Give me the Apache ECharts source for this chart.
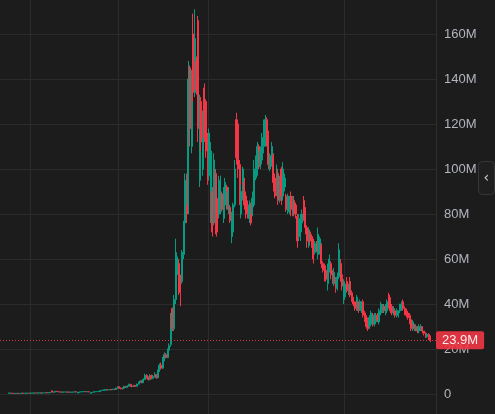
<!DOCTYPE html>
<html>
<head>
<meta charset="utf-8">
<script src="https://cdn.jsdelivr.net/npm/echarts@6/dist/echarts.min.js"></script>
<style>
html,body{margin:0;padding:0;background:#1c1c1c;}
#c{width:495px;height:414px;}
</style>
</head>
<body>
<div id="c"></div>
<script>
// Values in millions. Each candle: [open, close, low, high]
const slotCount = 272;          // category slots across the plot
const firstSlot = 5;            // first slot that holds a candle
const ohlc = [
  [0.3,0.4,0.2,0.5],[0.4,0.4,0.3,0.5],[0.4,0.3,0.2,0.5],[0.3,0.2,0.1,0.4],[0.2,0.3,0.1,0.4],
  [0.3,0.3,0.2,0.4],[0.3,0.2,0.1,0.4],[0.2,0.3,0.1,0.4],[0.3,0.4,0.2,0.5],[0.4,0.3,0.2,0.5],
  [0.3,0.3,0.2,0.4],[0.3,0.4,0.2,0.5],[0.4,0.4,0.3,0.5],[0.4,0.3,0.2,0.5],[0.3,0.4,0.2,0.5],
  [0.4,0.4,0.3,0.5],[0.4,0.5,0.3,0.6],[0.5,0.4,0.3,0.6],[0.4,0.5,0.3,0.6],[0.5,0.5,0.4,0.6],
  [0.5,0.4,0.3,0.6],[0.4,0.5,0.3,0.6],[0.5,0.5,0.4,0.6],[0.5,0.6,0.4,0.7],[0.6,0.5,0.4,0.7],
  [0.5,0.6,0.4,0.7],
  [0.6,0.7,0.5,0.8],[1.4,0.8,0.7,1.6],[0.8,0.9,0.7,1.0],[0.9,1.2,0.8,1.3],[1.2,1.0,0.9,1.3],
  [1.0,0.9,0.8,1.1],[0.9,0.9,0.8,1.0],[0.9,0.8,0.7,1.0],[0.8,0.9,0.7,1.0],[0.9,0.9,0.8,1.0],
  [0.9,0.8,0.7,1.0],[0.8,0.9,0.7,1.0],[0.9,0.8,0.7,1.0],[0.8,0.8,0.7,0.9],[0.8,0.9,0.7,1.0],
  [0.9,1.0,0.8,1.1],[1.0,0.9,0.8,1.1],[0.4,0.7,0.3,0.8],[0.7,0.9,0.6,1.0],[0.9,1.0,0.8,1.1],
  [1.0,1.0,0.9,1.1],[1.0,1.1,0.9,1.2],[1.1,1.0,0.9,1.2],[1.0,1.0,0.9,1.1],[1.0,0.9,0.8,1.1],
  [0.3,0.6,0.2,0.7],[0.6,0.8,0.5,0.9],[0.8,1.0,0.7,1.1],[1.0,1.0,0.9,1.1],[1.0,1.1,0.9,1.2],
  [1.1,1.2,1.0,1.3],
  [1.0,1.5,0.9,1.6],[1.5,1.6,1.4,1.8],[1.6,1.8,1.5,1.9],[1.6,2.0,1.5,2.1],[2.0,1.8,1.7,2.2],
  [1.8,1.8,1.6,2.0],[1.8,2.0,1.7,2.1],[2.0,1.9,1.7,2.2],[1.9,2.1,1.8,2.3],[2.1,2.0,1.8,2.4],
  [2.0,2.6,1.9,2.8],[2.6,3.2,2.4,3.5],[3.2,2.6,2.4,3.4],[2.6,2.3,2.1,2.9],[2.3,2.6,2.0,2.9],
  [2.6,3.4,2.5,3.6],[3.4,3.0,2.8,3.6],[3.0,3.5,2.7,3.8],[3.5,4.3,3.3,4.6],[4.3,3.6,3.2,4.5],
  [3.6,3.3,3.0,3.9],[3.3,3.8,3.1,4.1],[3.8,3.4,3.2,4.0],[3.4,4.4,3.3,4.6],[4.4,5.2,4.2,5.5],
  [5.2,5.8,4.9,6.0],[5.8,5.0,4.8,6.2],[5.0,6.5,4.9,7.0],[6.5,8.3,6.2,9.0],[8.3,7.2,6.8,8.8],
  [7.2,6.4,6.0,7.8],[6.4,8.2,6.1,8.8],[8.2,7.0,6.5,8.6],[7.0,7.8,6.6,8.5],[7.8,8.6,7.4,9.6],
  [8.6,7.2,6.8,8.9],[7.2,10.2,7.0,10.8],[10.2,12.8,9.8,13.6],[12.8,11.5,10.8,14.0],[11.5,15.5,11.2,16.5],
  [15.5,17.5,14.6,18.5],[17.5,16.2,15.8,18.2],[16.2,19.5,16.0,20.2],[19.5,21.5,19.0,22.5],[22,33,21,36],
  [38,29,28,38.5],[29,42,28,44],[42,57,40,69],[53,61,51,63],[58,46,44,60],
  [52,45,39,53],[50,63,49,64],[62,76,60,77],[76,95,74,98],[95,80,76,98],
  [84,140,80,148],[145,118,110,146],[110,142,107,144],[160,134,130,169],[134,158,132,171],
  [148,135,133,150],[166,118,112,168],[95,130,92,133],[130,112,108,132],[100,124,97,126],
  [136,114,112,138],[130,108,105,131],[114,95,93,116],[97,116,95,118],[84,108,76,112],
  [90,72,70,92],[76,104,75,107],[98,78,71,100],[87,72,70,88],[80,92,78,97],
  [82,95,80,97],[89,82,81,90],[78,91,76,92],[84,94,82,96],[92,84,82,93],
  [82,90,80,92],[83,77,76,84],[70,80,67,81],[72,84,70,85],[84,100,83,104],
  [122,105,102,125],[120,100,96,122],[102,88,84,104],[80,90,78,93],[88,100,86,101],
  [94,84,82,96],[88,80,78,90],[84,80,78,86],[78,84,76,86],[84,76,75,85],
  [80,87,79,90],[84,100,83,104],[96,104,95,106],[100,110,97,112],[110,102,100,111],
  [101,108,100,110],[104,114,102,116],[110,120,107,122],[114,122,110,124],[122,112,110,123],
  [115,102,100,117],[100,106,99,107],[104,110,101,112],[106,94,90,107],[96,88,87,98],
  [90,100,88,102],[98,86,84,100],[86,95,85,97],[100,88,84,101],[88,100,86,103],
  [92,96,90,98],[88,82,81,89],[81,88,80,89],[82,86,80,88],[88,82,79,90],
  [80,86,79,88],[86,80,79,88],[84,80,78,85],[79,68,65,80],[70,78,68,80],
  [72,78,68,80],[76,80,74,82],[86,78,77,88],[82,74,71,83],[74,68,65,75],
  [66,72,65,74],[72,68,67,73],[70,66,65,71],[67,60,58,69],[63,67,62,68],
  [67,64,63,68],[62,71,60,74],[64,69,62,70],[66,58,56,67],[58,55,54,59],
  [57,52,50,58],[55,51,50,57],[49,56,46,58],[55,60,54,62],[58,53,51,59],
  [54,50,49,55],[49,54,48,56],[51,47,45,52],[47,52,46,54],[52,64,51,67],
  [58,52,50,60],[53,48,46,54],[42,50,40,51],[44,48,43,49],[50,46,45,52],
  [45,48,44,49],[50,44,43,52],[45,42,41,46],[43,40,39,43],[41,38,37,41],
  [38,43,37,44],[41,37,36,41],[38,41,37,42],[37,41,36,41],[41,35,34,42],
  [36,33,32,37],[34,30,29,35],[33,29,28,34],[30,34,29,35],[31,36,30,37],
  [35,31,30,36],[31,35,30,36],[32,35,31,36],[35,33,32,36],[32,37,31,38],
  [36,40,35,41],[37,39,36,40],[39,37,36,40],[36,39,35,40],[37,41,36,42],
  [44,39,38,45],[42,37,36,43],[39,36,35,40],[36,38,35,39],[37,35,34,37],
  [35,37,34,38],[35,37,34,37],[37,40,36,40],[38,41,37,41],[41,38,37,42],
  [38,36,35,39],[37,35,34,38],[36,34,33,37],[35,32,31,36],[33,29,28,34],
  [29,32,28,33],[31,29,28,31],[28,30,28,31],[30,28,27,30],[28,30,27,31],
  [29,30,28,31],[30,28,27,30],[28,27,26,28],[27,26,25,27.5],[25.5,26.5,25,27],
  [26.5,25,24,27],[25.5,23.9,23,26]
];
const lastPrice = 23.9;
const yTicks = [0, 20, 40, 60, 80, 100, 120, 140, 160];
const xSplitSlots = [19, 74, 130, 215];

const categories = Array.from({length: slotCount}, (_, i) => String(i));
const seriesData = categories.map((_, i) => {
  const k = i - firstSlot;
  return (k >= 0 && k < ohlc.length) ? ohlc[k] : ['-','-','-','-'];
});

const chart = echarts.init(document.getElementById('c'), null, {renderer: 'canvas'});
chart.setOption({
  backgroundColor: '#1c1c1c',
  animation: false,
  grid: {left: 0, right: 59, top: 0, bottom: 0},
  xAxis: {
    type: 'category',
    data: categories,
    boundaryGap: true,
    axisLine: {show: false},
    axisTick: {show: false},
    axisLabel: {show: false},
    splitLine: {
      show: true,
      interval: (idx) => xSplitSlots.includes(idx),
      lineStyle: {color: '#2b2b2b', width: 1}
    }
  },
  yAxis: {
    type: 'value',
    position: 'right',
    min: -20 / 2.25,
    max: 394 / 2.25,
    axisLine: {show: true, lineStyle: {color: '#2e2e2e'}},
    axisTick: {show: false, customValues: yTicks},
    axisLabel: {
      customValues: yTicks,
      color: '#b2b5be',
      fontSize: 13,
      fontFamily: 'Liberation Sans, Arial, sans-serif',
      margin: 8,
      formatter: (v) => v === 0 ? '0' : v + 'M'
    },
    splitLine: {show: true, lineStyle: {color: '#2b2b2b', width: 1}}
  },
  series: [{
    type: 'candlestick',
    data: seriesData,
    barWidth: 1.5,
    itemStyle: {
      color: '#089981', color0: '#f23645',
      borderColor: '#089981', borderColor0: '#f23645',
      borderWidth: 1
    },
    markLine: {
      silent: true,
      symbol: ['none', 'none'],
      data: [{yAxis: lastPrice}],
      lineStyle: {color: '#f23645', type: [1, 2], width: 1, opacity: 0.9},
      label: {
        show: true,
        position: 'end',
        distance: 0,
        formatter: lastPrice + 'M',
        color: '#ffffff',
        backgroundColor: '#f23645',
        fontSize: 13,
        fontFamily: 'Liberation Sans, Arial, sans-serif',
        padding: [3, 6, 2, 6],
        borderRadius: 2
      }
    }
  }],
  graphic: [{
    type: 'group',
    right: 0,
    top: 161,
    children: [
      {type: 'rect', shape: {x: 0, y: 0, width: 16, height: 33, r: 4},
       style: {fill: '#1f1f1f', stroke: '#363636', lineWidth: 1}},
      {type: 'text', x: 5, y: 10, style: {text: '‹', fill: '#d1d4dc', fontSize: 14, fontFamily: 'DejaVu Sans'}}
    ]
  }]
});
</script>
</body>
</html>
